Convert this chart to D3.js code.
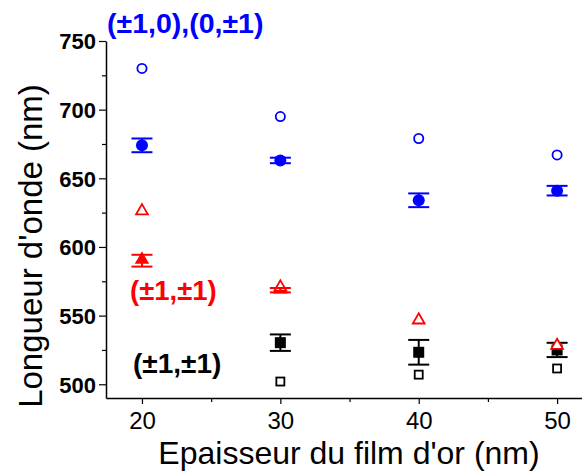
<!DOCTYPE html>
<html><head><meta charset="utf-8">
<script src="https://cdn.jsdelivr.net/npm/d3@7/dist/d3.min.js"></script>
<style>body{margin:0;background:#fff;}svg{display:block;}text{font-family:"Liberation Sans",Arial,sans-serif;}</style>
</head><body>
<svg id="c" width="582" height="471"></svg>
<script>
// Data
const thickness = [20, 30, 40, 50];
const blueOpen = [730, 695, 679, 667];
const blueFilled = [674, 663, 634, 641];
const blueErr = [5, 2, 5, 3.5];
const redOpenX = [20, 30, 40, 50];
const redOpen = [625.5, 570, 546, 527.5];
const redFilledX = [20, 30];
const redFilled = [590, 568.5];
const redErr = [4.3, 1.6];
const blackFilledX = [30, 40, 50];
const blackFilled = [530.3, 523.3, 525];
const blackErr = [6, 9, 5.2];
const blackOpenX = [30, 40, 50];
const blackOpen = [502, 507, 511.5];
const xTicks = [20, 30, 40, 50];
const xMinor = [25, 35, 45];
const yTicks = [500, 550, 600, 650, 700, 750];
const yMinor = [525, 575, 625, 675, 725];

const BLUE = "#0000ff", RED = "#ff0000", BLACK = "#000";
const svg = d3.select("#c");
const x = d3.scaleLinear().domain([17.4, 51.8]).range([106, 582]);
const y = d3.scaleLinear().domain([490, 750]).range([398, 41]);

// axes
const xAxis = d3.axisBottom(x).tickValues(xTicks).tickSize(6).tickSizeOuter(0).tickFormat(d3.format("d"));
const gx = svg.append("g").attr("transform", "translate(0,398)").call(xAxis);
gx.select(".domain").attr("stroke-width", 1.5);
gx.selectAll(".tick line").attr("stroke-width", 1.2);
gx.selectAll(".tick text").attr("font-size", 24).attr("dy", "0.95em").attr("y", 8);
svg.append("g").attr("transform", "translate(0,398)")
  .call(d3.axisBottom(x).tickValues(xMinor).tickSize(4).tickSizeOuter(0).tickFormat(""))
  .call(g => { g.select(".domain").remove(); g.selectAll("line").attr("stroke-width", 1.2); });

const yAxis = d3.axisLeft(y).tickValues(yTicks).tickSize(7).tickSizeOuter(0);
const gy = svg.append("g").attr("transform", "translate(106,0)").call(yAxis);
gy.select(".domain").attr("stroke-width", 1.5);
gy.selectAll(".tick line").attr("stroke-width", 1.2);
gy.selectAll(".tick text").attr("font-size", 22).attr("font-weight", "bold").attr("x", -10).attr("dy", "0.36em");
svg.append("g").attr("transform", "translate(106,0)")
  .call(d3.axisLeft(y).tickValues(yMinor).tickSize(4).tickSizeOuter(0).tickFormat(""))
  .call(g => { g.select(".domain").remove(); g.selectAll("line").attr("stroke-width", 1.2); });

// titles
svg.append("text").attr("x", 349).attr("y", 464).attr("text-anchor", "middle")
  .attr("font-size", 32).text("Epaisseur du film d'or (nm)");
svg.append("text").attr("transform", "translate(42,246) rotate(-90)").attr("text-anchor", "middle")
  .attr("font-size", 33).text("Longueur d'onde (nm)");

// error bars
function errBars(xs, ys, es, color) {
  const g = svg.append("g").attr("stroke", color).attr("stroke-width", 2);
  xs.forEach((xv, i) => {
    const cx = x(xv), t = y(ys[i] + es[i]), b = y(ys[i] - es[i]);
    g.append("line").attr("x1", cx).attr("x2", cx).attr("y1", t).attr("y2", b);
    g.append("line").attr("x1", cx - 10.5).attr("x2", cx + 10.5).attr("y1", t).attr("y2", t);
    g.append("line").attr("x1", cx - 10.5).attr("x2", cx + 10.5).attr("y1", b).attr("y2", b);
  });
}

const tri = d3.symbol().type(d3.symbolTriangle);

// blue
svg.append("g").selectAll("circle").data(thickness).join("circle")
  .attr("cx", d => x(d)).attr("cy", (d, i) => y(blueOpen[i])).attr("r", 4.6)
  .attr("fill", "#fff").attr("stroke", BLUE).attr("stroke-width", 1.8);
svg.append("g").selectAll("circle").data(thickness).join("circle")
  .attr("cx", d => x(d)).attr("cy", (d, i) => y(blueFilled[i])).attr("r", 6)
  .attr("fill", BLUE);
errBars(thickness, blueFilled, blueErr, BLUE);

// black
svg.append("g").selectAll("rect").data(blackOpenX).join("rect")
  .attr("x", d => x(d) - 4).attr("y", (d, i) => y(blackOpen[i]) - 4).attr("width", 8).attr("height", 8)
  .attr("fill", "#fff").attr("stroke", BLACK).attr("stroke-width", 1.8);
svg.append("g").selectAll("rect").data(blackFilledX).join("rect")
  .attr("x", d => x(d) - 5.5).attr("y", (d, i) => y(blackFilled[i]) - 5.5).attr("width", 11).attr("height", 11)
  .attr("fill", BLACK);
errBars(blackFilledX, blackFilled, blackErr, BLACK);

// red
svg.append("g").selectAll("path").data(redFilledX).join("path")
  .attr("d", tri.size(90)()).attr("transform", (d, i) => `translate(${x(d)},${y(redFilled[i]) - 1})`)
  .attr("fill", RED);
svg.append("g").selectAll("path").data(redOpenX).join("path")
  .attr("d", tri.size(60)()).attr("transform", (d, i) => `translate(${x(d)},${y(redOpen[i]) - 1})`)
  .attr("fill", "#fff").attr("stroke", RED).attr("stroke-width", 1.8);
errBars(redFilledX, redFilled, redErr, RED);

// labels
svg.append("text").attr("x", 107).attr("y", 33).attr("font-size", 28.5).attr("font-weight", "bold")
  .attr("fill", BLUE).text("(±1,0),(0,±1)");
svg.append("text").attr("x", 130).attr("y", 300).attr("font-size", 27.5).attr("font-weight", "bold")
  .attr("fill", RED).text("(±1,±1)");
svg.append("text").attr("x", 133).attr("y", 373).attr("font-size", 28).attr("font-weight", "bold")
  .attr("fill", BLACK).text("(±1,±1)");
</script>
</body></html>
